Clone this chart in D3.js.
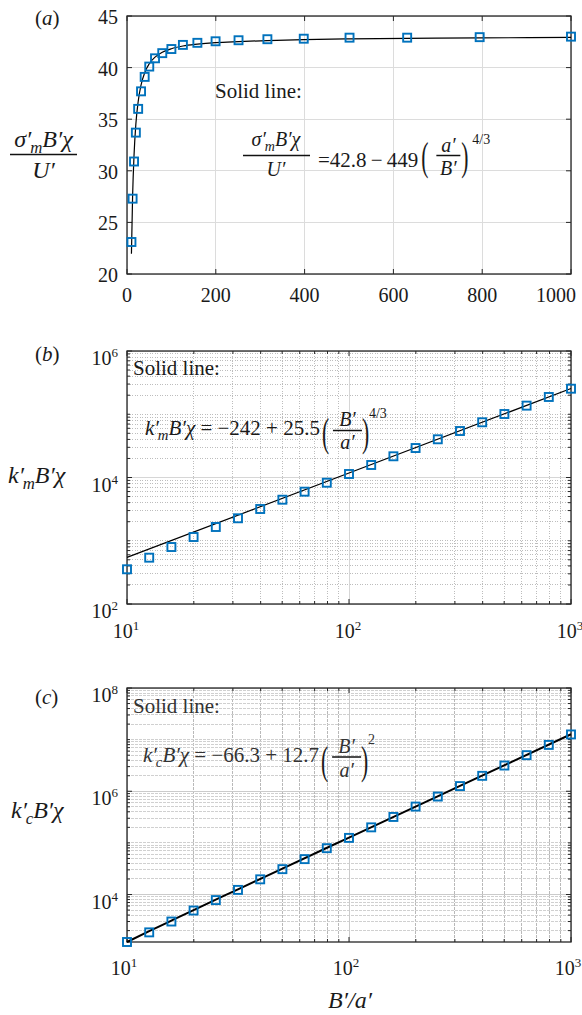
<!DOCTYPE html>
<html><head><meta charset="utf-8">
<script src="https://cdn.jsdelivr.net/npm/d3@7"></script>
</head><body style="margin:0;background:#fff">
<svg id="chart" width="582" height="1015"></svg>
<script>
// ---------- data ----------
const ratio = [10, 12.59, 15.85, 19.95, 25.12, 31.62, 39.81, 50.12, 63.10, 79.43, 100,
               125.9, 158.5, 199.5, 251.2, 316.2, 398.1, 501.2, 631.0, 794.3, 1000];
const sigmaVals = [23.1, 27.3, 30.9, 33.7, 36.0, 37.7, 39.1, 40.1, 40.9, 41.4, 41.8,
                   42.2, 42.4, 42.55, 42.65, 42.75, 42.8, 42.9, 42.9, 42.95, 43.0];
const sigmaFit  = [21.96, 27.48, 31.52, 34.53, 36.69, 38.31, 39.50, 40.37, 41.01, 41.48, 41.83,
                   42.09, 42.27, 42.42, 42.52, 42.62, 42.72, 42.79, 42.84, 42.88, 42.92];
const kmVals = [354, 540, 796, 1146, 1650, 2265, 3177, 4456, 5970, 8270, 11360,
                15770, 21640, 29240, 40180, 54330, 74640, 100900, 136800, 187500, 253500];
const kmFitX = [10, 100, 1000];
const kmFitY = [545, 11800, 255000];
const kcVals = [1204, 1850, 3000, 4900, 7800, 12300, 19700, 31000, 48500, 79000, 125000,
                200000, 318000, 505000, 790000, 1.26e6, 1.99e6, 3.15e6, 5.0e6, 7.9e6, 1.26e7];
const kcFitX = [10, 12.59, 15.85, 19.95, 31.62, 50.12, 100, 316.2, 1000];
const kcFitY = [1204, 1947, 3124, 5000, 12630, 31840, 126930, 1.27e6, 1.27e7];

const ticksAx = [0, 200, 400, 600, 800, 1000];
const ticksAy = [20, 25, 30, 35, 40, 45];
const ticksLogX = [10, 100, 1000];
const ticksBy = [1e2, 1e4, 1e6];
const ticksCy = [1e4, 1e6, 1e8];

// ---------- scales ----------
const L = 127, R = 571;
const xA = d3.scaleLinear([0, 1000], [L, R]);
const yA = d3.scaleLinear([20, 45], [274, 16]);
const xB = d3.scaleLog([10, 1000], [L, R]);
const yB = d3.scaleLog([100, 1e6], [604, 351]);
const xC = d3.scaleLog([10, 1000], [L, R]);
const yC = d3.scaleLog([1204, 1e8], [942, 688]);

const FONT = '"Liberation Serif"';
const svg = d3.select("#chart");
const BLUE = "#0072BD", AX = "#262626", TXT = "#1a1a1a";

function applyAttrs(sel, a) { for (const k in a) sel.attr(k, a[k]); return sel; }
function txt(parent) { return parent.append("text").style("font-family", FONT).attr("fill", TXT); }

function gridLines(g, vals, orient, x, y, style) {
  const [x0, x1] = x.range(), [y0, y1] = y.range();
  const s = g.selectAll(null).data(vals).join("line");
  if (orient === "v") s.attr("x1", d => x(d)).attr("x2", d => x(d)).attr("y1", y0).attr("y2", y1);
  else s.attr("y1", d => y(d)).attr("y2", d => y(d)).attr("x1", x0).attr("x2", x1);
  applyAttrs(s, style).attr("shape-rendering", "crispEdges");
}
function tickMarks(g, vals, orient, x, y, len) {
  const [x0, x1] = x.range(), [y0, y1] = y.range();
  vals.forEach(v => {
    if (orient === "v") {
      const px = x(v);
      g.append("line").attr("x1", px).attr("x2", px).attr("y1", y0).attr("y2", y0 - len).attr("stroke", AX);
      g.append("line").attr("x1", px).attr("x2", px).attr("y1", y1).attr("y2", y1 + len).attr("stroke", AX);
    } else {
      const py = y(v);
      g.append("line").attr("y1", py).attr("y2", py).attr("x1", x0).attr("x2", x0 + len).attr("stroke", AX);
      g.append("line").attr("y1", py).attr("y2", py).attr("x1", x1).attr("x2", x1 - len).attr("stroke", AX);
    }
  });
}
function powLabel(g, v, px, py, anchor) {
  const t = txt(g).attr("x", px).attr("y", py).attr("text-anchor", anchor).attr("font-size", 20);
  t.append("tspan").text("10");
  t.append("tspan").attr("font-size", 13).attr("dy", -8).text(Math.round(Math.log10(v)));
  return t;
}

function panel(cfg) {
  const { x, y, xMajor, yMajor, log, gridMajor, gridMinor } = cfg;
  const g = svg.append("g");
  const [x0, x1] = x.range(), [y0, y1] = y.range();
  let xMinor = [], yMinor = [];
  if (log) {
    xMinor = x.ticks().filter(d => !xMajor.some(m => Math.abs(m - d) / d < 1e-6));
    yMinor = y.ticks().filter(d => !yMajor.some(m => Math.abs(m - d) / d < 1e-6));
    gridLines(g, xMinor, "v", x, y, gridMinor.x);
    gridLines(g, yMinor, "h", x, y, gridMinor.y);
  }
  gridLines(g, xMajor, "v", x, y, gridMajor);
  gridLines(g, yMajor, "h", x, y, gridMajor);
  tickMarks(g, xMajor, "v", x, y, 5);
  tickMarks(g, yMajor, "h", x, y, 5);
  if (log) { tickMarks(g, xMinor, "v", x, y, 3); tickMarks(g, yMinor, "h", x, y, 3); }
  g.append("rect").attr("x", x0).attr("y", y1).attr("width", x1 - x0).attr("height", y0 - y1)
    .attr("fill", "none").attr("stroke", AX).attr("stroke-width", 1.3);
  return g;
}

// ---------- panel (a) ----------
const gA = panel({ x: xA, y: yA, xMajor: ticksAx, yMajor: ticksAy, log: false,
  gridMajor: { stroke: "#dcdcdc", "stroke-width": 1 } });
ticksAx.forEach((v, i) => {
  const last = i === ticksAx.length - 1;
  txt(gA).attr("x", last ? xA(v) + 5 : xA(v)).attr("y", 302)
    .attr("text-anchor", last ? "end" : "middle").attr("font-size", 20).text(v);
});
ticksAy.forEach(v => txt(gA).attr("x", 118).attr("y", yA(v) + 8)
  .attr("text-anchor", "end").attr("font-size", 20).text(v));
gA.append("path").datum(ratio.map((r, i) => [r, sigmaFit[i]]))
  .attr("d", d3.line().x(d => xA(d[0])).y(d => yA(d[1])).curve(d3.curveMonotoneX))
  .attr("fill", "none").attr("stroke", "#000").attr("stroke-width", 1.2);
gA.selectAll(null).data(ratio.map((r, i) => [r, sigmaVals[i]])).join("rect")
  .attr("x", d => xA(d[0]) - 4).attr("y", d => yA(d[1]) - 4).attr("width", 8).attr("height", 8)
  .attr("fill", "none").attr("stroke", BLUE).attr("stroke-width", 1.9);

// ---------- panel (b) ----------
const minorStyleB = { stroke: "#bdbdbd", "stroke-width": 1, "stroke-dasharray": "1,1.5" };
const gB = panel({ x: xB, y: yB, xMajor: ticksLogX, yMajor: ticksBy, log: true,
  gridMajor: { stroke: "#d6d6d6", "stroke-width": 1 },
  gridMinor: { x: minorStyleB, y: minorStyleB } });
ticksLogX.forEach(v => powLabel(gB, v, xB(v) - 1, 638, "middle"));
ticksBy.forEach(v => powLabel(gB, v, 118, yB(v) + 14, "end"));
gB.append("path").datum(kmFitX.map((r, i) => [r, kmFitY[i]]))
  .attr("d", d3.line().x(d => xB(d[0])).y(d => yB(d[1])))
  .attr("fill", "none").attr("stroke", "#000").attr("stroke-width", 1.2);
gB.selectAll(null).data(ratio.map((r, i) => [r, kmVals[i]])).join("rect")
  .attr("x", d => xB(d[0]) - 4).attr("y", d => yB(d[1]) - 4).attr("width", 8).attr("height", 8)
  .attr("fill", "none").attr("stroke", BLUE).attr("stroke-width", 1.9);

// ---------- panel (c) ----------
const gC = panel({ x: xC, y: yC, xMajor: ticksLogX, yMajor: ticksCy, log: true,
  gridMajor: { stroke: "#cbcbcb", "stroke-width": 1 },
  gridMinor: { x: { stroke: "#b9b9b9", "stroke-width": 1, "stroke-dasharray": "3,1" },
               y: { stroke: "#d0d0d0", "stroke-width": 1, "stroke-dasharray": "3,1" } } });
ticksLogX.forEach(v => powLabel(gC, v, xC(v) - 3, 975, "middle"));
ticksCy.forEach(v => powLabel(gC, v, 118, yC(v) + 14, "end"));
gC.append("path").datum(kcFitX.map((r, i) => [r, kcFitY[i]]))
  .attr("d", d3.line().x(d => xC(d[0])).y(d => yC(d[1])).curve(d3.curveMonotoneX))
  .attr("fill", "none").attr("stroke", "#000").attr("stroke-width", 2);
gC.selectAll(null).data(ratio.map((r, i) => [r, kcVals[i]])).join("rect")
  .attr("x", d => xC(d[0]) - 4).attr("y", d => yC(d[1]) - 4).attr("width", 8).attr("height", 8)
  .attr("fill", "none").attr("stroke", BLUE).attr("stroke-width", 1.9);

// ---------- text helpers ----------
function panelLabel(letter, x, y) {
  const t = txt(svg).attr("x", x).attr("y", y).attr("font-size", 21);
  t.append("tspan").text("(");
  t.append("tspan").attr("font-style", "italic").text(letter);
  t.append("tspan").text(")");
}
panelLabel("a", 35, 25);
panelLabel("b", 35, 361);
panelLabel("c", 35, 704);

function kExpr(x, y, sub, size, rest) {
  const t = txt(svg).attr("x", x).attr("y", y).attr("font-size", size);
  t.append("tspan").attr("font-style", "italic").text("k\u2032");
  t.append("tspan").attr("font-style", "italic").attr("font-size", size * 0.7).attr("dy", size * 0.25).attr("dx", -size * 0.05).text(sub);
  t.append("tspan").attr("font-style", "italic").attr("dy", -size * 0.25).text("B\u2032\u03C7");
  if (rest) t.append("tspan").text(rest);
  return t;
}
function sigmaExpr(cx, y, size) {
  const t = txt(svg).attr("x", cx).attr("y", y).attr("font-size", size).attr("text-anchor", "middle");
  t.append("tspan").attr("font-style", "italic").text("\u03C3\u2032");
  t.append("tspan").attr("font-style", "italic").attr("font-size", size * 0.7).attr("dy", size * 0.25).attr("dx", -size * 0.05).text("m");
  t.append("tspan").attr("font-style", "italic").attr("dy", -size * 0.25).text("B\u2032\u03C7");
  return t;
}
function fracBar(x1, x2, y) {
  svg.append("line").attr("x1", x1).attr("x2", x2).attr("y1", y).attr("y2", y)
    .attr("stroke", "#111").attr("stroke-width", 1.5);
}
function italic(x, y, size, s, anchor) {
  return txt(svg).attr("x", x).attr("y", y).attr("font-size", size)
    .attr("font-style", "italic").attr("text-anchor", anchor || "start").text(s);
}
function plain(x, y, size, s, anchor) {
  return txt(svg).attr("x", x).attr("y", y).attr("font-size", size)
    .attr("text-anchor", anchor || "start").text(s);
}
function paren(x, yBase, s) {
  txt(svg).attr("transform", `translate(${x},${yBase}) scale(0.9,1.7)`)
    .attr("font-size", 24).text(s);
}
function endOf(sel) { const b = sel.node().getBBox(); return b.x + b.width; }
// ( num / den )^exp group placed at px
function parenFrac(px, yParen, num, den, yNum, yDen, yBar, expo, yExp, fill) {
  paren(px, yParen, "(");
  const cx = px + 25.5;
  const n = italic(cx, yNum, 20, num, "middle");
  fracBar(px + 11, px + 40, yBar);
  const d = italic(cx, yDen, 20, den, "middle");
  paren(px + 40, yParen, ")");
  const e = plain(px + 47, yExp, 14, expo);
  if (fill) { n.attr("fill", fill); d.attr("fill", fill); e.attr("fill", fill); }
}

// ---------- axis titles ----------
sigmaExpr(43.5, 147, 24);
fracBar(10, 77, 154.5);
italic(43.5, 178, 24, "U\u2032", "middle");
kExpr(8, 483, "m", 24);
kExpr(11, 818, "c", 24);
italic(350, 1008, 24, "B\u2032/a\u2032", "middle");

// ---------- annotations ----------
plain(215, 98, 21, "Solid line:");
sigmaExpr(276, 146, 20);
fracBar(243, 310, 155.5);
italic(276, 176, 20, "U\u2032", "middle");
const eqA = plain(318, 167, 21, "=42.8\u2009\u2212\u2009449");
{
  const px = Math.max(endOf(eqA) + 3, 418);
  paren(px, 170, "(");
  italic(px + 27, 152, 20, "a\u2032", "middle");
  fracBar(px + 15, px + 39, 155.5);
  italic(px + 27, 175, 20, "B\u2032", "middle");
  paren(px + 40, 170, ")");
  plain(px + 51, 144, 14, "4/3");
}

plain(133, 375, 21, "Solid line:");
const eqB = kExpr(145, 435, "m", 21, " = \u2212242 + 25.5");
parenFrac(endOf(eqB) + 2, 446, "B\u2032", "a\u2032", 426, 449, 430.5, "4/3", 418);

plain(133, 713, 21, "Solid line:").attr("fill", "#333");
const eqC = kExpr(143, 762, "c", 21, " = \u221266.3 + 12.7").attr("fill", "#333");
parenFrac(endOf(eqC) + 2, 774, "B\u2032", "a\u2032", 753, 777, 757, "2", 744, "#333");
</script>
</body></html>
